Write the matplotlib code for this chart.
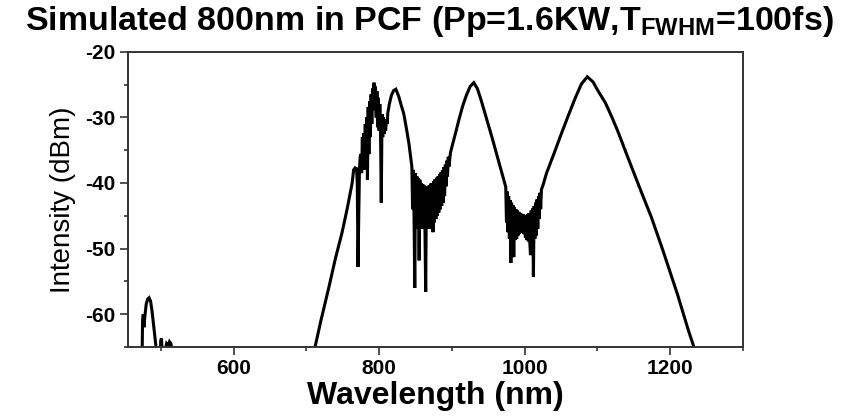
import matplotlib
matplotlib.use("Agg")
import matplotlib.pyplot as plt
from matplotlib.ticker import MultipleLocator

plt.rcParams["font.family"] = ["Liberation Sans", "DejaVu Sans"]
plt.rcParams["mathtext.fontset"] = "custom"
plt.rcParams["mathtext.rm"] = "Liberation Sans:bold"
plt.rcParams["mathtext.bf"] = "Liberation Sans:bold"
plt.rcParams["axes.unicode_minus"] = False

# spectrum (wavelength in nm, intensity in dBm)
wavelength_nm = [
    470, 474, 475, 476, 477, 478, 480, 482, 484, 486, 488, 490, 492, 494, 496,
    499, 500, 501, 502, 504, 506, 508, 510, 512, 514, 516, 518, 525, 600,
    705, 712, 720, 731, 740, 749, 756, 763, 765, 767, 769, 770, 771, 772, 773,
    774, 775, 776, 777, 778, 779, 780, 781, 782, 783, 784, 785, 786, 787, 788,
    789, 790, 791, 792, 793, 794, 795, 796, 797, 798, 799, 800, 801, 802, 803,
    804, 805, 806, 807, 808, 809, 810, 811, 812, 814, 817, 820, 823, 827, 830,
    834, 838, 841, 845, 846, 847, 848, 849, 850, 851, 852, 853, 854, 855, 856,
    857, 858, 859, 860, 861, 862, 863, 864, 865, 866, 867, 868, 869, 870, 871,
    872, 873, 874, 875, 876, 877, 878, 879, 880, 881, 882, 883, 884, 885, 886,
    887, 888, 889, 890, 891, 892, 893, 894, 895, 896, 898, 900, 905, 910, 915,
    920, 925, 930, 935, 940, 945, 950, 955, 960, 965, 970, 974, 975, 976, 977,
    978, 979, 980, 981, 982, 983, 984, 985, 986, 987, 988, 989, 990, 991, 992,
    993, 994, 995, 996, 997, 998, 999, 1000, 1001, 1002, 1003, 1004, 1005, 1006,
    1007, 1008, 1009, 1010, 1011, 1012, 1013, 1014, 1015, 1016, 1017, 1018,
    1019, 1020, 1021, 1022, 1023, 1025, 1030, 1040, 1050, 1060, 1070, 1078,
    1086, 1094, 1100, 1111, 1120, 1129, 1140, 1160, 1174, 1190, 1210, 1225,
    1231, 1235, 1245,
]
intensity_dbm = [
    -70, -70, -61, -60, -62, -60.5, -58.5, -57.7, -57.5, -58, -59.5, -61.5, -63.5, -65.5, -70,
    -68, -64, -63.7, -66, -68, -65.5, -64.5, -64.8, -64.2, -64.5, -66, -70, -80, -90,
    -70, -65, -61, -55.9, -51.5, -47.6, -44, -40, -38, -37.7, -37.8, -40, -52.8, -45, -38,
    -36, -35.6, -38.5, -33, -38, -32.4, -37, -31, -38, -30, -39.5, -28.4, -35.6, -27.5, -33,
    -26.5, -31, -25.6, -29, -24.7, -28, -25.3, -30, -26, -31.5, -27, -32, -28, -32.5, -43,
    -29.5, -33, -30, -32.5, -30.5, -32, -30.3, -31, -29.3, -28, -26.6, -25.9, -25.7, -26.8, -28,
    -29.5, -32, -34, -37.5, -44, -38, -45, -56, -38.5, -46, -39, -47, -39.3, -51.8, -39.5,
    -47, -40, -47, -40.2, -46.5, -40.4, -47, -56.6, -40.6, -47, -40.5, -46.5, -40.3, -47, -40.1,
    -46, -40, -47.5, -39.7, -46, -39.4, -45.5, -39.2, -45, -39, -44.5, -38.7, -44, -38.4, -43.5,
    -38.1, -43, -37.6, -42, -37.2, -40.5, -36.6, -39, -36, -37.5, -35.4, -34.5, -32.4, -30.2, -28.2,
    -26.6, -25.3, -24.7, -25.6, -27.3, -29.2, -31.1, -33, -35, -37, -39, -40.6, -46, -41.3, -47.5,
    -42, -48.5, -42.6, -52.2, -43, -48.7, -43.4, -51.3, -43.7, -48.7, -44, -48.5, -44.2, -48, -44.4,
    -47.7, -44.6, -47.6, -44.7, -47.6, -44.8, -47.8, -44.9, -48.3, -44.9, -48.7, -44.8, -48.9, -44.6,
    -49, -51, -44.2, -48.8, -43.9, -54.3, -43.5, -48.5, -43, -48, -42.5, -47,
    -42, -45.5, -41.5, -44, -41, -40.4, -38.5, -35.6, -32.6, -29.7, -26.9, -24.9,
    -23.8, -24.6, -25.8, -27.8, -30, -32.4, -35.6, -41.3, -45.2, -50.3, -57, -62.5,
    -64.5, -66, -70,
]

x_range = (455, 1300)
y_range = (-65, -20)

fig = plt.figure(figsize=(8.59, 4.18), dpi=100)
ax = fig.add_axes([0.149, 0.170, 0.716, 0.706])

ax.plot(wavelength_nm, intensity_dbm, color="black", linewidth=2.2, solid_joinstyle="miter")

ax.set_xlim(*x_range)
ax.set_ylim(*y_range)
ax.xaxis.set_major_locator(MultipleLocator(200))
ax.xaxis.set_minor_locator(MultipleLocator(100))
ax.yaxis.set_major_locator(MultipleLocator(10))
ax.yaxis.set_minor_locator(MultipleLocator(5))

ax.tick_params(which="both", direction="out", top=False, right=False, color="#333333", width=1.2)
ax.tick_params(which="major", length=6, labelsize=15, pad=3)
ax.tick_params(which="minor", length=3)
for label in ax.get_xticklabels() + ax.get_yticklabels():
    label.set_fontweight("bold")
for spine in ax.spines.values():
    spine.set_linewidth(1.4)
    spine.set_color("#333333")

ax.set_xlabel("Wavelength (nm)", fontsize=23, fontweight="bold", labelpad=2)
ax.set_ylabel("Intensity (dBm)", fontsize=20, labelpad=7)

fig.text(0.5, 0.99, r"Simulated 800nm in PCF (Pp=1.6KW,T$_{\mathbf{FWHM}}$=100fs)",
         ha="center", va="top", fontsize=24.5, fontweight="bold")

fig.savefig("out.png", dpi=100)
